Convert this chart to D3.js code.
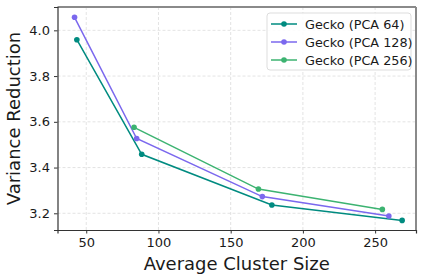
<!DOCTYPE html>
<html>
<head>
<meta charset="utf-8">
<script src="https://cdn.jsdelivr.net/npm/d3@7"></script>
<style>
  body { margin: 0; background: #fff; }
  text { font-family: "DejaVu Sans", sans-serif; }
</style>
</head>
<body>
<svg width="424" height="280"></svg>
<script>
// data
var seriesNames = ["Gecko (PCA 64)", "Gecko (PCA 128)", "Gecko (PCA 256)"];
var seriesColors = ["#008b80", "#7b68ee", "#3cb371"];
var pca64X = [43.5, 88.4, 178.5, 268.7];
var pca64Y = [3.959, 3.458, 3.236, 3.169];
var pca128X = [41.9, 84.9, 171.9, 259.5];
var pca128Y = [4.057, 3.527, 3.273, 3.188];
var pca256X = [83.1, 169.2, 255.0];
var pca256Y = [3.576, 3.306, 3.217];
var xTicks = [50, 100, 150, 200, 250];
var yTicks = [3.2, 3.4, 3.6, 3.8, 4.0];

var svg = d3.select("svg"),
    margin = {left: 57.5, right: 8, top: 7, bottom: 50},
    width = 424 - margin.left - margin.right,
    height = 280 - margin.top - margin.bottom;

var x = d3.scaleLinear().domain([30.1, 278.3]).range([0, width]);
var y = d3.scaleLinear().domain([3.127, 4.102]).range([height, 0]);

var g = svg.append("g").attr("transform", "translate(" + margin.left + "," + margin.top + ")");

// grid
g.append("g").selectAll("line").data(xTicks).enter().append("line")
    .attr("x1", d => x(d)).attr("x2", d => x(d))
    .attr("y1", 0).attr("y2", height)
    .style("stroke", "#dcdcdc").style("stroke-width", 0.8).style("stroke-dasharray", "3,2");
g.append("g").selectAll("line").data(yTicks).enter().append("line")
    .attr("y1", d => y(d)).attr("y2", d => y(d))
    .attr("x1", 0).attr("x2", width)
    .style("stroke", "#dcdcdc").style("stroke-width", 0.8).style("stroke-dasharray", "3,2");

// top / right spines (gray)
g.append("line").attr("x1", 0).attr("x2", width).attr("y1", 0).attr("y2", 0)
    .style("stroke", "#8a8a8a").style("stroke-width", 2);
g.append("line").attr("x1", width).attr("x2", width).attr("y1", 0).attr("y2", height)
    .style("stroke", "#8a8a8a").style("stroke-width", 2);

// axes
var xAxis = g.append("g").attr("transform", "translate(0," + height + ")")
    .call(d3.axisBottom(x).tickValues(xTicks).tickSizeOuter(0).tickSize(3.5).tickPadding(4));
var yAxis = g.append("g")
    .call(d3.axisLeft(y).tickValues(yTicks).tickFormat(d3.format(".1f")).tickSizeOuter(0).tickSize(3.5).tickPadding(4));
[xAxis, yAxis].forEach(function(a) {
  a.selectAll("text").style("font-size", "13px").style("fill", "#1a1a1a")
    .style("font-family", "DejaVu Sans, sans-serif");
  a.selectAll("line").style("stroke", "#333");
  a.select(".domain").style("stroke", "#333").style("stroke-width", 1.2);
});

// axis labels
svg.append("text")
    .attr("x", margin.left + width / 2).attr("y", 269.5)
    .attr("text-anchor", "middle").style("font-size", "18px").style("fill", "#1a1a1a")
    .text("Average Cluster Size");
svg.append("text")
    .attr("transform", "translate(20," + (margin.top + height / 2) + ") rotate(-90)")
    .attr("text-anchor", "middle").style("font-size", "18px").style("fill", "#1a1a1a")
    .text("Variance Reduction");

// lines
var allSeries = [
  pca64X.map((v, i) => [v, pca64Y[i]]),
  pca128X.map((v, i) => [v, pca128Y[i]]),
  pca256X.map((v, i) => [v, pca256Y[i]])
];
var line = d3.line().x(d => x(d[0])).y(d => y(d[1]));

allSeries.forEach(function(pts, i) {
  g.append("path").datum(pts)
    .attr("d", line)
    .style("fill", "none").style("stroke", seriesColors[i]).style("stroke-width", 1.5);
  g.append("g").selectAll("circle").data(pts).enter().append("circle")
    .attr("cx", d => x(d[0])).attr("cy", d => y(d[1])).attr("r", 2.8)
    .style("fill", seriesColors[i]);
});

// legend
var legend = svg.append("g").attr("transform", "translate(267,13)");
legend.append("rect").attr("width", 144).attr("height", 57).attr("rx", 3)
    .style("fill", "#fff").style("fill-opacity", 0.85).style("stroke", "#dddddd");
seriesNames.forEach(function(name, i) {
  var yy = 11 + i * 18;
  legend.append("line").attr("x1", 4).attr("x2", 30).attr("y1", yy).attr("y2", yy)
    .style("stroke", seriesColors[i]).style("stroke-width", 1.5);
  legend.append("circle").attr("cx", 17).attr("cy", yy).attr("r", 2.8).style("fill", seriesColors[i]);
  legend.append("text").attr("x", 38).attr("y", yy + 4.5)
    .style("font-size", "12.8px").style("fill", "#1a1a1a").text(name);
});
</script>
</body>
</html>
